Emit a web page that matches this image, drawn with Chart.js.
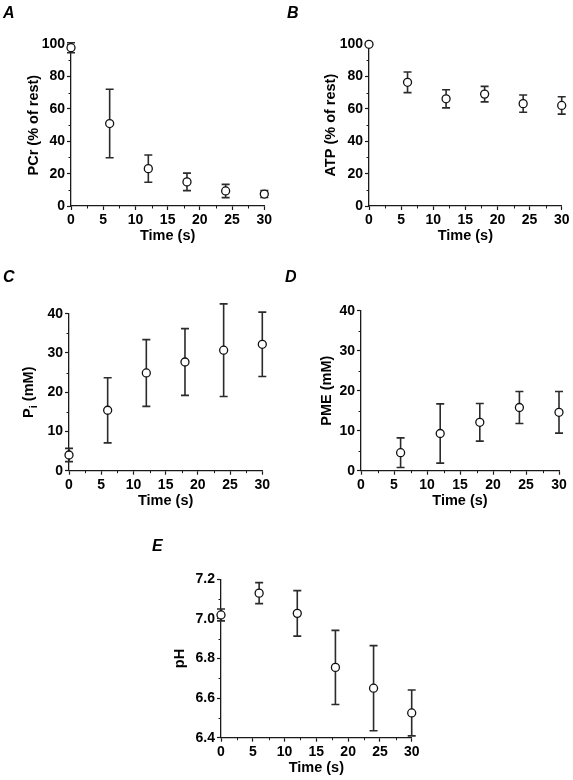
<!DOCTYPE html>
<html>
<head>
<meta charset="utf-8">
<script src="https://cdn.jsdelivr.net/npm/chart.js@4.4.1/dist/chart.umd.min.js"></script>
<style>
html, body { margin: 0; padding: 0; background: #fff; }
#wrap { position: relative; width: 573px; height: 780px; overflow: hidden; }
#wrap canvas { position: absolute; left: 0; top: 0; }
.tag { position: absolute; font: italic bold 16px "Liberation Sans", Arial, sans-serif; line-height: 16px; color: #000; }
</style>
</head>
<body>
<div id="wrap">
	<canvas id="cA" width="573" height="780"></canvas>
	<canvas id="cB" width="573" height="780"></canvas>
	<canvas id="cC" width="573" height="780"></canvas>
	<canvas id="cD" width="573" height="780"></canvas>
	<canvas id="cE" width="573" height="780"></canvas>
	<div class="tag" style="left:3px;top:5px">A</div>
	<div class="tag" style="left:287px;top:5px">B</div>
	<div class="tag" style="left:3px;top:269px">C</div>
	<div class="tag" style="left:285px;top:269px">D</div>
	<div class="tag" style="left:152px;top:538px">E</div>
</div>
<script>
//	Data
var times = [0, 6, 12, 18, 24, 30];
var pmeTimes = [6, 12, 18, 24, 30];

var pcrMean = [97.9, 51, 23.1, 14.9, 9.3, 7.4];
var pcrErr = [3.1, 21.2, 8.4, 5.4, 4.1, 2.1];

var atpMean = [100, 76.5, 66.3, 69.2, 63.3, 62.2];
var atpErr = [0, 6.4, 5.6, 4.8, 5.3, 5.4];

var piMean = [4.0, 15.4, 24.9, 27.7, 30.7, 32.2];
var piErr = [1.7, 8.3, 8.5, 8.5, 11.8, 8.2];

var pmeMean = [4.5, 9.3, 12.1, 15.8, 14.6];
var pmeErr = [3.7, 7.4, 4.7, 4.0, 5.2];

var phMean = [7.02, 7.13, 7.028, 6.755, 6.65, 6.525];
var phErr = [0.03, 0.053, 0.115, 0.187, 0.215, 0.116];

// axis ranges: [min, max, step]
var timeRange = [0, 30, 5];
var pctRange = [0, 100, 20];
var mmRange = [0, 40, 10];
var phRange = [6.4, 7.2, 0.2];

var fontFamily = '"Liberation Sans", Arial, Helvetica, sans-serif';
var tickFont = { family: fontFamily, size: 14, weight: 'bold' };
var titleFont = { family: fontFamily, size: 14.5, weight: 'bold' };
var inkColor = '#1a1a1a';
var xTitleBand = 38.7;	// x title centre sits ~30px under the axis

//	Plugins
var errorBars = {
	id: 'errorBars',
	beforeDatasetsDraw: function (chart) {
		var ctx = chart.ctx, xs = chart.scales.x, ys = chart.scales.y;
		chart.data.datasets.forEach(function (ds) {
			if (!ds.errors) return;
			ctx.save();
			ctx.strokeStyle = '#2b2b2b';
			ctx.lineWidth = 1.6;
			ds.data.forEach(function (p, i) {
				var e = ds.errors[i];
				if (!e) return;
				var x = xs.getPixelForValue(p.x);
				var y1 = ys.getPixelForValue(p.y + e);
				var y2 = ys.getPixelForValue(p.y - e);
				ctx.beginPath();
				ctx.moveTo(x, y1); ctx.lineTo(x, y2);
				ctx.moveTo(x - 4, y1); ctx.lineTo(x + 4, y1);
				ctx.moveTo(x - 4, y2); ctx.lineTo(x + 4, y2);
				ctx.stroke();
			});
			ctx.restore();
		});
	}
};

var minorTicks = {
	id: 'minorTicks',
	afterDraw: function (chart) {
		var ctx = chart.ctx, area = chart.chartArea;
		ctx.save();
		ctx.strokeStyle = inkColor;
		ctx.lineWidth = 1;
		['x', 'y'].forEach(function (id) {
			var s = chart.scales[id], t = s.ticks;
			for (var i = 0; i < t.length - 1; i++) {
				var p = Math.round(s.getPixelForValue((t[i].value + t[i + 1].value) / 2)) + 0.5;
				ctx.beginPath();
				if (id === 'x') { ctx.moveTo(p, area.bottom); ctx.lineTo(p, area.bottom + 2.5); }
				else { ctx.moveTo(area.left, p); ctx.lineTo(area.left - 2.5, p); }
				ctx.stroke();
			}
		});
		ctx.restore();
	}
};

// y title with a subscript (P_i), drawn by hand
var subTitle = {
	id: 'subTitle',
	afterDraw: function (chart, args, opts) {
		if (!opts || !opts.main) return;
		var ctx = chart.ctx, area = chart.chartArea;
		var big = 'bold 14.5px ' + fontFamily, small = 'bold 11px ' + fontFamily;
		ctx.save();
		ctx.fillStyle = '#000';
		ctx.textBaseline = 'middle';
		ctx.font = big; var w1 = ctx.measureText(opts.main).width; var w3 = ctx.measureText(opts.rest).width;
		ctx.font = small; var w2 = ctx.measureText(opts.sub).width;
		ctx.translate(opts.x, (area.top + area.bottom) / 2);
		ctx.rotate(-Math.PI / 2);
		var x0 = -(w1 + w2 + w3) / 2;
		ctx.font = big; ctx.fillText(opts.main, x0, 0);
		ctx.font = small; ctx.fillText(opts.sub, x0 + w1, 5);
		ctx.font = big; ctx.fillText(opts.rest, x0 + w1 + w2, 0);
		ctx.restore();
	}
};

var pairUp = function (xs, ys) {
	return xs.map(function (x, i) { return { x: x, y: ys[i] }; });
};

//	Panel builder
var makePanel = function (canvasId, box, xValues, yValues, errs, yRange, yTitle, decimals, sub) {
	var padLeft = box.titleX - titleFont.size * 0.6;
	var yWidth = box.left - padLeft;
	return new Chart(document.getElementById(canvasId), {
		type: 'scatter',
		data: {
			datasets: [{
				data: pairUp(xValues, yValues),
				errors: errs,
				showLine: false,
				pointRadius: 4,
				pointBackgroundColor: '#fff',
				pointBorderColor: '#111',
				pointBorderWidth: 1.3,
				clip: false
			}]
		},
		options: {
			responsive: false,
			animation: false,
			events: [],
			devicePixelRatio: 1,
			layout: {
				padding: { left: padLeft, top: box.top, right: 573 - box.right, bottom: 780 - box.bottom - xTitleBand }
			},
			plugins: {
				legend: { display: false },
				tooltip: { enabled: false },
				subTitle: sub || {}
			},
			scales: {
				x: {
					type: 'linear',
					min: timeRange[0], max: timeRange[1],
					ticks: { stepSize: timeRange[2], font: tickFont, color: '#000', padding: 2, maxRotation: 0 },
					grid: { drawOnChartArea: false, tickLength: 4, tickColor: inkColor, tickWidth: 1.2 },
					border: { color: inkColor, width: 1.3 },
					title: { display: true, text: 'Time (s)', font: titleFont, color: '#000', padding: 0 },
					afterFit: function (s) { s.height = xTitleBand; }
				},
				y: {
					type: 'linear',
					min: yRange[0], max: yRange[1],
					ticks: {
						stepSize: yRange[2], font: tickFont, color: '#000', padding: 2,
						callback: function (v) { return Number(v).toFixed(decimals); }
					},
					grid: { drawOnChartArea: false, tickLength: 4, tickColor: inkColor, tickWidth: 1.2 },
					border: { color: inkColor, width: 1.3 },
					title: { display: !sub, text: yTitle, font: titleFont, color: '#000', padding: 0 },
					afterFit: function (s) { s.width = yWidth; }
				}
			}
		},
		plugins: [errorBars, minorTicks, subTitle]
	});
};

makePanel('cA', { left: 71, right: 264.3, top: 44.3, bottom: 206, titleX: 33.5 },
	times, pcrMean, pcrErr, pctRange, 'PCr (% of rest)', 0);
makePanel('cB', { left: 369, right: 561.7, top: 44.3, bottom: 206, titleX: 331 },
	times, atpMean, atpErr, pctRange, 'ATP (% of rest)', 0);
makePanel('cC', { left: 69, right: 262.3, top: 313.7, bottom: 470.7, titleX: 28 },
	times, piMean, piErr, mmRange, '', 0, { main: 'P', sub: 'i', rest: ' (mM)', x: 29 });
makePanel('cD', { left: 361, right: 559, top: 310.7, bottom: 470.7, titleX: 327 },
	pmeTimes, pmeMean, pmeErr, mmRange, 'PME (mM)', 0);
makePanel('cE', { left: 221, right: 411.7, top: 579.3, bottom: 737.7, titleX: 180 },
	times, phMean, phErr, phRange, 'pH', 1);
</script>
</body>
</html>
